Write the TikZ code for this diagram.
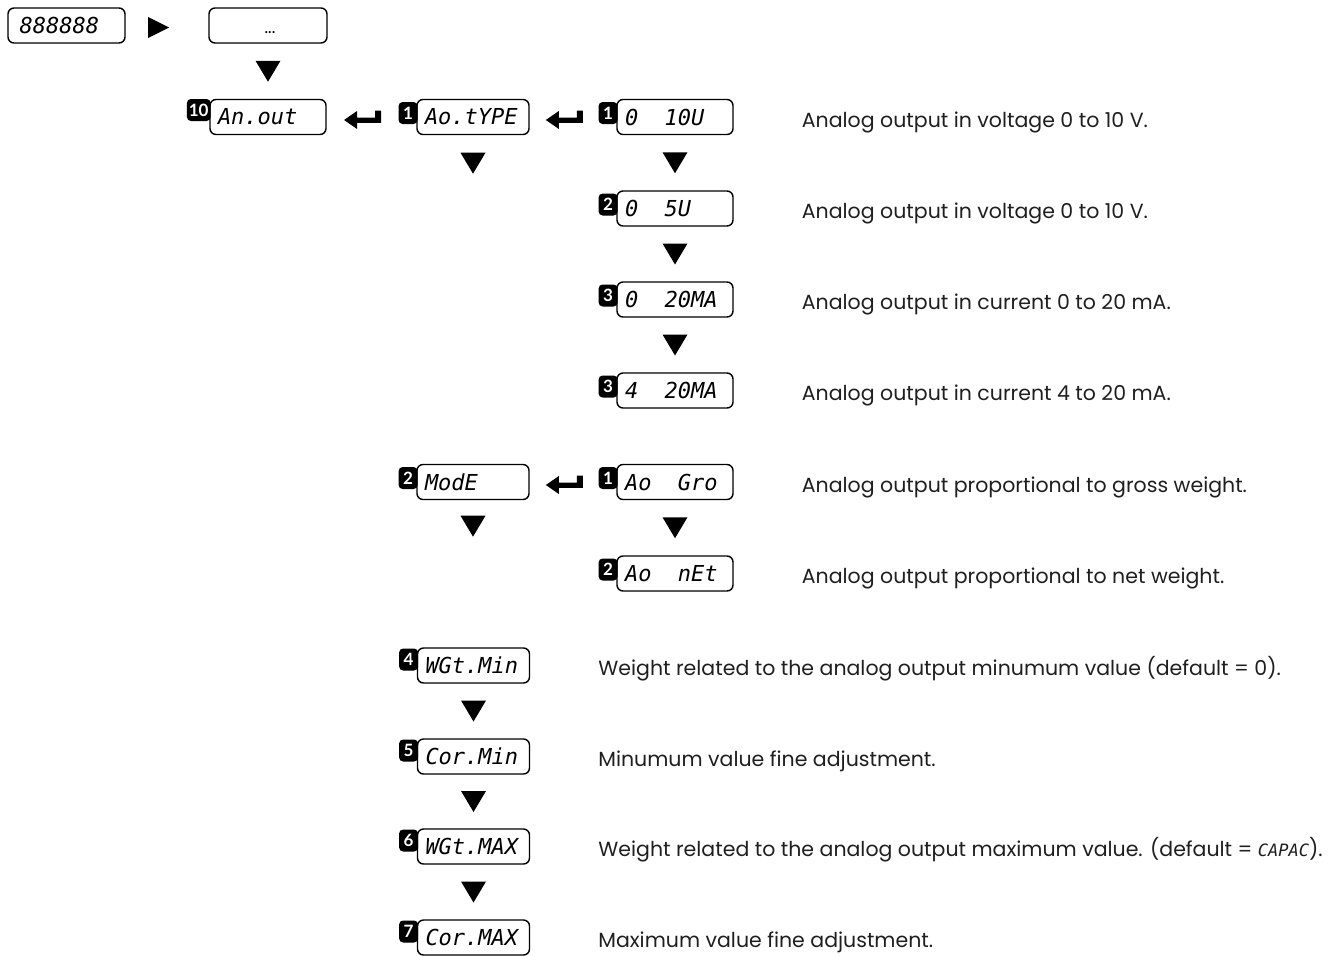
\documentclass[tikz,border=0pt]{standalone}
\usepackage{fontspec}
\setmainfont{Poppins}
\newfontfamily\dispfont{DejaVu Sans Mono}
\newfontfamily\badgefont{Lato}
\newcommand\cel{\phantom{0}}
\usetikzlibrary{calc}
\tikzset{
  dispbase/.style={draw, line width=1.4pt, rounded corners=6pt, minimum height=35pt,
    inner ysep=0pt, inner xsep=8pt, align=left, fill=white,
    font=\dispfont\itshape\fontsize{22}{24}\selectfont},
  dispA/.style={dispbase, text width=100pt},
  dispB/.style={dispbase, text width=96pt},
  badge/.style={fill=black, rounded corners=4pt, minimum width=19pt, minimum height=22pt,
    inner xsep=2pt, inner ysep=0pt, text=white, anchor=north east,
    font=\badgefont\bfseries\fontsize{17}{17}\selectfont},
  desc/.style={anchor=base west, inner sep=0pt, text=black!88,
    font=\fontsize{20.5}{24}\selectfont},
  tridown/.pic={\fill (-12.5,-10.5) -- (12.5,-10.5) -- (0,10.5) -- cycle;},
  triright/.pic={\fill (-10.5,-10.5) -- (-10.5,10.5) -- (10.5,0) -- cycle;},
  enterarrow/.pic={\fill (-18.5,0) -- (-5.5,-9) -- (-5.5,-2.5) -- (12.5,-2.5) -- (12.5,-9.5)
    -- (18.5,-9.5) -- (18.5,2.8) -- (-5.5,2.8) -- (-5.5,9) -- cycle;}
}
\begin{document}
\begin{tikzpicture}[x=1pt,y=-1pt]
\useasboundingbox (0,0) rectangle (1339,956);

% top row
\node[dispbase, text width=101pt] (top0) at (66.5,25.5) {\,888888};
\node[dispbase, text width=102pt] (top1) at (268,25.5) {};
\node[anchor=base, inner sep=0pt, font=\fontsize{17}{17}\selectfont] (dots) at ($(top1.center)+(2,8)$) {...};
\pic at ($(top0.east)!0.4!(top1.west)+(0,2)$) {triright};

% An.out
\node[dispA] (anout) at (268,117) {An.out};
\node[badge] (bg0) at ($(anout.north west)+(1.5,0)$) {10};
\pic at ($(top1.south)!0.5!(anout.north)$) {tridown};

% Ao.tYPE column
\node[dispB] (aotype) at (473,117) {Ao.tYPE};
\node[badge] (bg1) at ($(aotype.north west)+(1.5,3)$) {1};
\pic at ($(anout.east)!0.4!(aotype.west)+(0,3)$) {enterarrow};
\pic at ($(aotype.south)+(0,28)$) {tridown};

% type options
\node[dispA] (t1) at (675,117) {0\cel\cel10U};
\node[badge] (bt1) at ($(t1.north west)+(1.5,3)$) {1};
\node[dispA] (t2) at (675,208.5) {0\cel\cel5U};
\node[badge] (bt2) at ($(t2.north west)+(1.5,3)$) {2};
\node[dispA] (t3) at (675,299.5) {0\cel\cel20MA};
\node[badge] (bt3) at ($(t3.north west)+(1.5,3)$) {3};
\node[dispA] (t4) at (675,390.5) {4\cel\cel20MA};
\node[badge] (bt4) at ($(t4.north west)+(1.5,3)$) {3};
\pic at ($(aotype.east)!0.4!(t1.west)+(0,3)$) {enterarrow};
\pic at ($(t1.south)!0.5!(t2.north)$) {tridown};
\pic at ($(t2.south)!0.5!(t3.north)$) {tridown};
\pic at ($(t3.south)!0.5!(t4.north)$) {tridown};

\node[desc] (dt1) at ($(t1.east)+(68,10)$) {Analog output in voltage 0 to 10 V.};
\node[desc] (dt2) at ($(t2.east)+(68,10)$) {Analog output in voltage 0 to 10 V.};
\node[desc] (dt3) at ($(t3.east)+(68,10)$) {Analog output in current 0 to 20 mA.};
\node[desc] (dt4) at ($(t4.east)+(68,10)$) {Analog output in current 4 to 20 mA.};

% mode
\node[dispB] (mode) at (473,482) {ModE};
\node[badge] (bm) at ($(mode.north west)+(1.5,3)$) {2};
\pic at ($(mode.south)+(0,26)$) {tridown};
\node[dispA] (m1) at (675,482) {Ao\cel\cel Gro};
\node[badge] (bm1) at ($(m1.north west)+(1.5,3)$) {1};
\node[dispA] (m2) at (675,573.5) {Ao\cel\cel nEt};
\node[badge] (bm2) at ($(m2.north west)+(1.5,3)$) {2};
\pic at ($(mode.east)!0.4!(m1.west)+(0,3)$) {enterarrow};
\pic at ($(m1.south)!0.5!(m2.north)$) {tridown};
\node[desc] (dm1) at ($(m1.east)+(68,10)$) {Analog output proportional to gross weight.};
\node[desc] (dm2) at ($(m2.east)+(68,10)$) {Analog output proportional to net weight.};

% weights
\node[dispB] (w1) at (473.5,665.5) {WGt.Min};
\node[badge] (bw1) at ($(w1.north west)+(1.5,1)$) {4};
\node[dispB] (w2) at (473.5,756.5) {Cor.Min};
\node[badge] (bw2) at ($(w2.north west)+(1.5,1)$) {5};
\node[dispB] (w3) at (473.5,846.5) {WGt.MAX};
\node[badge] (bw3) at ($(w3.north west)+(1.5,1)$) {6};
\node[dispB] (w4) at (473.5,937.5) {Cor.MAX};
\node[badge] (bw4) at ($(w4.north west)+(1.5,1)$) {7};
\pic at ($(w1.south)!0.5!(w2.north)$) {tridown};
\pic at ($(w2.south)!0.5!(w3.north)$) {tridown};
\pic at ($(w3.south)!0.5!(w4.north)$) {tridown};
\node[desc] (dw1) at ($(w1.east)+(68,10)$) {Weight related to the analog output minumum value (default = 0).};
\node[desc] (dw2) at ($(w2.east)+(68,10)$) {Minumum value fine adjustment.};
\node[desc] (dw3) at ($(w3.east)+(68,10)$) {Weight related to the analog output maximum value. (default = {\dispfont\itshape\fontsize{17}{20}\selectfont CAPAC}).};
\node[desc] (dw4) at ($(w4.east)+(68,10)$) {Maximum value fine adjustment.};
\end{tikzpicture}
\end{document}
